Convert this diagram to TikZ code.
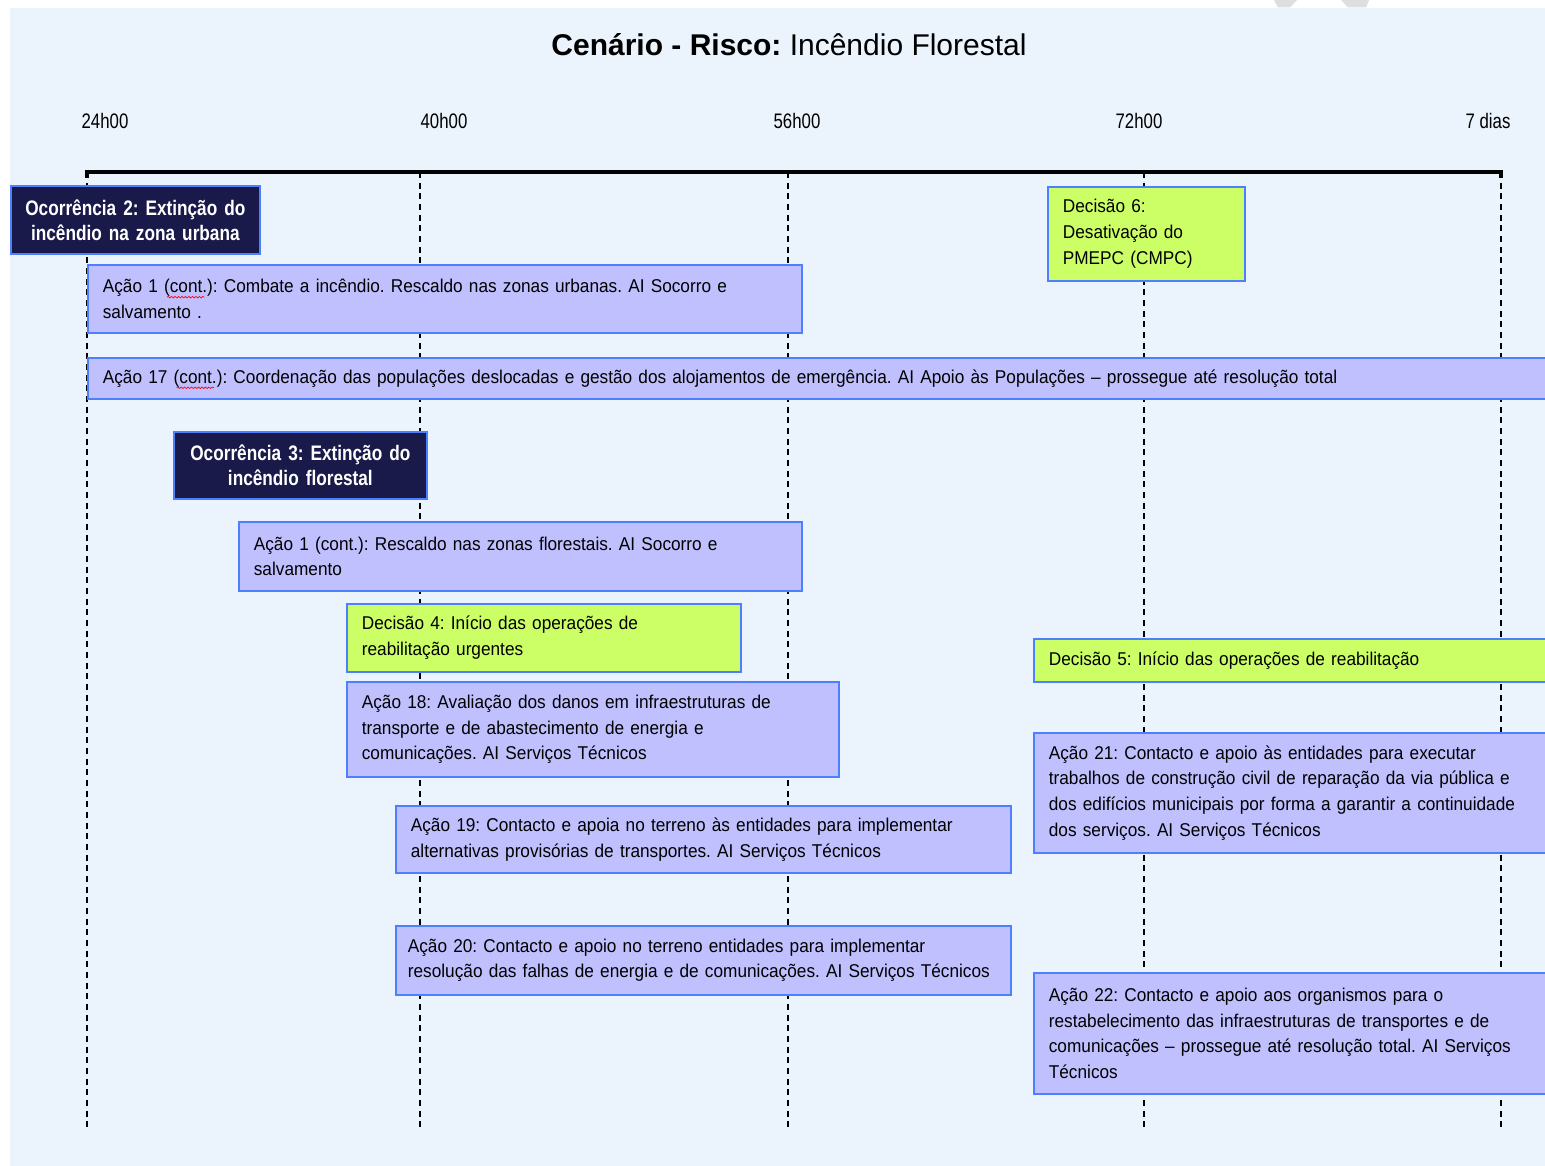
\documentclass[tikz,border=0pt]{standalone}
\usepackage{fontspec}
\setmainfont{Liberation Sans}
\newfontfamily\boxfont[FakeStretch=0.93]{Liberation Sans}
\newfontfamily\timefont[FakeStretch=0.8]{Liberation Sans}
\newfontfamily\headfont[FakeStretch=0.82]{Liberation Sans}
\usetikzlibrary{decorations.pathmorphing}

\definecolor{pagebg}{RGB}{235,243,253}
\definecolor{actfill}{RGB}{192,192,255}
\definecolor{decfill}{RGB}{204,255,102}
\definecolor{occfill}{RGB}{26,26,74}
\definecolor{edge}{RGB}{77,128,255}
\definecolor{marksgrey}{RGB}{222,222,222}

\newcommand\boxsize{\boxfont\fontsize{13.9}{19.3}\selectfont}
% widths used to put the spelling squiggles under "cont."
\newlength\preA
\newlength\preB
\newlength\contw

\tikzset{
  frame/.style={draw=edge, line width=1.3pt, anchor=north west, inner ysep=0pt},
  sized/.style n args={3}{text width={(#1-2*#3)*0.75pt}, inner xsep={#3*0.75pt},
                          minimum height={#2*0.75pt}},
  action/.style={frame, fill=actfill, align=left, font=\boxsize, text=black},
  decision/.style={frame, fill=decfill, align=left, font=\boxsize, text=black},
  occurrence/.style={frame, fill=occfill, align=center, text=white,
                     font=\headfont\bfseries\fontsize{15.75}{18.75}\selectfont},
  timelabel/.style={font=\timefont\fontsize{15.75}{18}\selectfont, inner sep=0pt},
  guide/.style={line width=1.1pt, dash pattern=on 4.5pt off 3.5pt},
  axis/.style={line width=3pt},
  squiggle/.style={red, line width=0.5pt, decorate,
                   decoration={snake, amplitude=0.6pt, segment length=2.6pt}}
}

\begin{document}
\frenchspacing
\settowidth\preA{\boxsize Ação 1 (}
\settowidth\preB{\boxsize Ação 17 (}
\settowidth\contw{\boxsize cont.}
\begin{tikzpicture}[x=0.75pt, y=-0.75pt]
  \useasboundingbox (0,0) rectangle (1545,1166);
  \clip (0,0) rectangle (1545,1166);
  \fill[white] (0,0) rectangle (1545,1166);
  \fill[pagebg] (10,8) rectangle (1545,1166);
  % marks in the top margin
  \fill[marksgrey] (1274,0) -- (1297,0) -- (1290,7.5) -- (1278,7.5) -- cycle;
  \fill[marksgrey] (1341,0) -- (1369,0) -- (1366,7.5) -- (1348,7.5) -- cycle;

  % title
  \node[font=\fontsize{22.5}{27}\selectfont] (title) at (789,45)
    {\textbf{Cenário - Risco:} Incêndio Florestal};

  % time scale
  \node[timelabel] (t24) at (105,121) {24h00};
  \node[timelabel] (t40) at (444,121) {40h00};
  \node[timelabel] (t56) at (797,121) {56h00};
  \node[timelabel] (t72) at (1139,121) {72h00};
  \node[timelabel] (t7d) at (1488,121) {7 dias};

  \coordinate (a24) at (87,172);
  \coordinate (a40) at (420,172);
  \coordinate (a56) at (788,172);
  \coordinate (a72) at (1144,172);
  \coordinate (a7d) at (1501,172);
  \coordinate (b24) at (87,1127);
  \coordinate (b40) at (420,1127);
  \coordinate (b56) at (788,1127);
  \coordinate (b72) at (1144,1127);
  \coordinate (b7d) at (1501,1127);

  \foreach \m in {24,40,56,72,7d} \draw[guide] (a\m) -- (b\m);
  \draw[axis] ([yshift=-4.5pt]a24) -- (a24) -- (a7d) -- ([yshift=-4.5pt]a7d);

  % urban fire
  \node[occurrence, sized={249}{68}{6}] (occ2) at (10,185)
    {Ocorrência 2: Extinção do\\incêndio na zona urbana};
  \node[action, sized={714}{68}{15}] (a1u) at (87,264)
    {Ação 1 (cont.): Combate a incêndio. Rescaldo nas zonas urbanas. AI Socorro e\\salvamento .};
  \node[action, sized={1500}{41}{15}] (a17) at (87,357)
    {Ação 17 (cont.): Coordenação das populações deslocadas e gestão dos alojamentos de emergência. AI Apoio às Populações – prossegue até resolução total};
  \draw[squiggle] ([xshift=11.9pt+\preA, yshift=-3.4pt]a1u.base west) -- ++(\contw,0);
  \draw[squiggle] ([xshift=11.9pt+\preB, yshift=-3.4pt]a17.base west) -- ++(\contw,0);

  % forest fire
  \node[occurrence, sized={253}{67}{6}] (occ3) at (173,431)
    {Ocorrência 3: Extinção do\\incêndio florestal};
  \node[action, sized={563}{69}{15}] (a1f) at (238,521)
    {Ação 1 (cont.): Rescaldo nas zonas florestais. AI Socorro e\\salvamento};
  \node[decision, sized={394}{68}{15}] (d4) at (346,603)
    {Decisão 4: Início das operações de\\reabilitação urgentes};
  \node[action, sized={492}{95}{15}] (a18) at (346,681)
    {Ação 18: Avaliação dos danos em infraestruturas de\\transporte e de abastecimento de energia e\\comunicações. AI Serviços Técnicos};
  \node[action, sized={615}{67}{15}] (a19) at (395,805)
    {Ação 19: Contacto e apoia no terreno às entidades para implementar\\alternativas provisórias de transportes. AI Serviços Técnicos};
  \node[action, sized={615}{69}{12}] (a20) at (395,925)
    {Ação 20: Contacto e apoio no terreno entidades para implementar\\resolução das falhas de energia e de comunicações. AI Serviços Técnicos};

  % later phase
  \node[decision, sized={197}{94}{15}] (d6) at (1047,186)
    {Decisão 6:\\Desativação do\\PMEPC (CMPC)};
  \node[decision, sized={600}{43}{15}] (d5) at (1033,638)
    {Decisão 5: Início das operações de reabilitação};
  \node[action, sized={600}{120}{15}] (a21) at (1033,732)
    {Ação 21: Contacto e apoio às entidades para executar\\trabalhos de construção civil de reparação da via pública e\\dos edifícios municipais por forma a garantir a continuidade\\dos serviços. AI Serviços Técnicos};
  \node[action, sized={600}{121}{15}] (a22) at (1033,972)
    {Ação 22: Contacto e apoio aos organismos para o\\restabelecimento das infraestruturas de transportes e de\\comunicações – prossegue até resolução total. AI Serviços\\Técnicos};
\end{tikzpicture}
\end{document}
